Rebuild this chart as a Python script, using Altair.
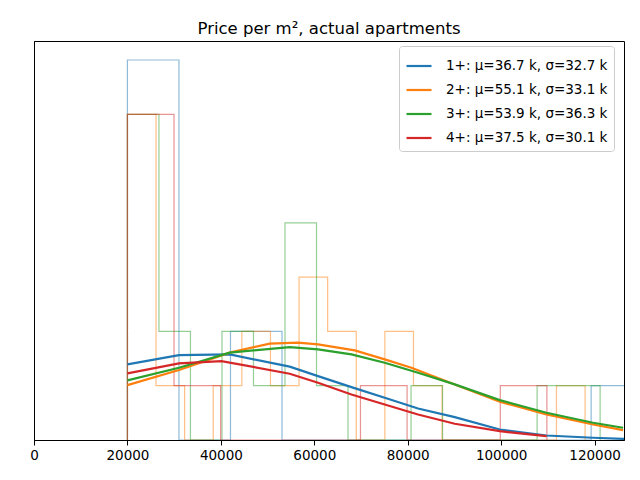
import altair as alt
import pandas as pd

# ---- data ----
groups = ["1+", "2+", "3+", "4+"]
labels = [
    "1+: μ=36.7 k, σ=32.7 k",
    "2+: μ=55.1 k, σ=33.1 k",
    "3+: μ=53.9 k, σ=36.3 k",
    "4+: μ=37.5 k, σ=30.1 k",
]
colors = ["#1f77b4", "#ff7f0e", "#2ca02c", "#d62728"]

hist_start = [20000, 20000, 20000, 20000]
hist_width = [11030, 6123, 6746, 9977]
hist_1 = [7, 0, 2, 0, 0, 0, 0, 0, 0, 1]
hist_2 = [6, 1, 0, 1, 2, 1, 3, 2, 0, 2, 1, 0, 0, 0, 0, 1]
hist_3 = [6, 2, 0, 2, 1, 4, 1, 0, 0, 1, 0, 0, 0, 1, 1]
hist_4 = [6, 1, 0, 0, 0, 1, 0, 0, 1]
hists = [hist_1, hist_2, hist_3, hist_4]

curve_1_x = [20000, 31040, 41900, 54740, 60800, 67950, 75080, 82210, 90070, 99710, 109700, 119680, 126100, 130000]
curve_1_y = [1.393, 1.565, 1.577, 1.351, 1.177, 0.974, 0.779, 0.581, 0.421, 0.194, 0.083, 0.041, 0.022, 0.015]
curve_2_x = [20000, 31040, 41900, 50460, 56520, 60800, 68660, 75080, 80800, 90070, 99710, 109700, 119680, 126100]
curve_2_y = [1.011, 1.29, 1.609, 1.775, 1.793, 1.762, 1.651, 1.485, 1.332, 1.024, 0.705, 0.470, 0.286, 0.181]
curve_3_x = [20000, 31040, 41900, 54740, 60800, 67950, 75080, 82210, 90070, 99710, 109700, 119680, 126100]
curve_3_y = [1.098, 1.33, 1.609, 1.712, 1.670, 1.577, 1.424, 1.240, 1.024, 0.734, 0.502, 0.317, 0.225]
curve_4_x = [20000, 31040, 40120, 54740, 60800, 67950, 75080, 82210, 90070, 99710, 109700]
curve_4_y = [1.227, 1.411, 1.454, 1.221, 1.055, 0.839, 0.655, 0.470, 0.299, 0.162, 0.070]
curves_x = [curve_1_x, curve_2_x, curve_3_x, curve_4_x]
curves_y = [curve_1_y, curve_2_y, curve_3_y, curve_4_y]

x_ticks = [0, 20000, 40000, 60000, 80000, 100000, 120000]

# ---- build tables ----
hist_rows = []
for g, col, start, w, counts in zip(groups, colors, hist_start, hist_width, hists):
    n = len(counts)
    pts = [(start, 0)]
    for i, c in enumerate(counts):
        pts.append((start + i * w, c))
    pts.append((start + n * w, counts[-1]))
    pts.append((start + n * w, 0))
    for k, (x, y) in enumerate(pts):
        hist_rows.append({"g": g, "col": col, "x": x, "y": y, "o": k})
hist_df = pd.DataFrame(hist_rows)

curve_rows = []
for lab, xs, ys in zip(labels, curves_x, curves_y):
    for k, (x, y) in enumerate(zip(xs, ys)):
        curve_rows.append({"label": lab, "x": x, "y": y, "o": k})
curve_df = pd.DataFrame(curve_rows)

xscale = alt.Scale(domain=[0, 126300], nice=False, zero=False)
yscale = alt.Scale(domain=[0, 7.35], nice=False)

xaxis = alt.Axis(values=x_ticks, format="d", title=None, grid=False,
                 tickSize=5, labelPadding=3, labelFontSize=13.5,
                 labelFont="DejaVu Sans", labelColor="black",
                 tickColor="black", domainColor="black", labelFlush=False)
yaxis = alt.Axis(title=None, labels=False, ticks=False, grid=False,
                 domainColor="black")

hist = alt.Chart(hist_df).mark_line(
    interpolate="step-after", strokeWidth=1.2, strokeOpacity=0.5, clip=True
).encode(
    x=alt.X("x:Q", scale=xscale, axis=xaxis),
    y=alt.Y("y:Q", scale=yscale, axis=yaxis),
    stroke=alt.Stroke("col:N", scale=None),
    detail="g:N",
    order="o:Q",
)

curves = alt.Chart(curve_df).mark_line(strokeWidth=2.2, clip=True).encode(
    x=alt.X("x:Q", scale=xscale, axis=xaxis),
    y=alt.Y("y:Q", scale=yscale, axis=yaxis),
    color=alt.Color("label:N", scale=alt.Scale(domain=labels, range=colors),
                    legend=alt.Legend(title=None, orient="none",
                                      legendX=365, legendY=5)),
    order="o:Q",
)

chart = alt.layer(hist, curves).properties(
    width=590, height=399,
    title=alt.TitleParams("Price per m², actual apartments", fontSize=16.5,
                          font="DejaVu Sans", fontWeight="normal",
                          color="black", offset=3, dy=-1, anchor="middle"),
    padding={"left": 26, "top": 33, "right": 8, "bottom": 30},
    autosize=alt.AutoSizeParams(type="none"),
).configure_view(
    stroke="black", strokeWidth=1
).configure_legend(
    labelFont="DejaVu Sans", labelFontSize=13.5, labelColor="black",
    labelLimit=0,
    symbolType="stroke", symbolStrokeWidth=2.2, symbolSize=625,
    rowPadding=3, padding=6,
    fillColor="white", strokeColor="#cccccc", cornerRadius=3,
    labelOffset=13,
)

chart.save("out.html", embed_options={"renderer": "svg", "actions": False})
